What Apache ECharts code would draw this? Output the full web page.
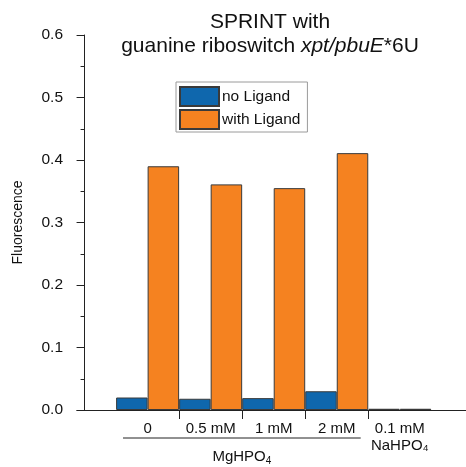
<!DOCTYPE html>
<html>
<head>
<meta charset="utf-8">
<script src="https://cdn.jsdelivr.net/npm/echarts@6/dist/echarts.min.js"></script>
<style>
html, body { margin: 0; padding: 0; background: #fff; }
#chart { width: 466px; height: 467px; }
</style>
</head>
<body>
<div id="chart"></div>
<script>
// Conditions (buffer additive) and measured fluorescence
const categories = ['0', '0.5 mM', '1 mM', '2 mM', '0.1 mM'];
const noLigand = [0.020, 0.018, 0.019, 0.030, 0.002];
const withLigand = [0.390, 0.361, 0.355, 0.411, 0.002];
const yTicks = [0, 0.1, 0.2, 0.3, 0.4, 0.5, 0.6];

const FONT = '"Liberation Sans", Arial, sans-serif';
const BLUE = '#0f67ad';
const ORANGE = '#f58220';
const EDGE = '#3a3a3a';

// each condition sits at integer position 1..n on the x scale
const positions = categories.map((c, i) => i + 1);
const boundaries = positions.slice(1).map(p => p - 0.5);

const chart = echarts.init(document.getElementById('chart'), null, { renderer: 'canvas' });

const option = {
  animation: false,
  backgroundColor: '#fff',
  title: {
    text: 'SPRINT with\n{n|guanine riboswitch }{i|xpt/pbuE}{n|*6U}',
    left: 265, top: 5, textAlign: 'center',
    textStyle: {
      fontFamily: FONT, fontSize: 21, fontWeight: 'normal', color: '#111', lineHeight: 24,
      rich: {
        n: { fontFamily: FONT, fontSize: 21, color: '#111', lineHeight: 24 },
        i: { fontFamily: FONT, fontSize: 21, fontStyle: 'italic', color: '#111', lineHeight: 24 }
      }
    }
  },
  legend: {
    left: 176, top: 82,
    orient: 'vertical',
    icon: 'rect',
    itemWidth: 39, itemHeight: 19, itemGap: 2,
    padding: [4, 7, 2, 3],
    borderColor: '#9a9a9a', borderWidth: 1,
    textStyle: { fontFamily: FONT, fontSize: 15.5, color: '#111', padding: [0, 0, 0, -2] },
    data: ['no Ligand', 'with Ligand']
  },
  grid: { left: 77, right: 0, top: 35, bottom: 57, containLabel: false },
  xAxis: {
    type: 'value',
    min: -0.12, max: 6.05,
    splitLine: { show: false },
    axisLine: { show: true, onZero: false, lineStyle: { color: '#222', width: 1 } },
    axisTick: { show: true, customValues: boundaries, inside: false, length: 9, lineStyle: { color: '#222' } },
    axisLabel: {
      show: true, customValues: positions, margin: 11,
      formatter: v => categories[Math.round(v) - 1] || '',
      fontFamily: FONT, fontSize: 15, color: '#111'
    }
  },
  yAxis: {
    type: 'value',
    min: 0, max: 0.6, interval: 0.1,
    name: 'Fluorescence', nameLocation: 'middle', nameGap: 52,
    nameTextStyle: { fontFamily: FONT, fontSize: 14, color: '#111' },
    splitLine: { show: false },
    axisLine: { show: true, lineStyle: { color: '#222', width: 1 } },
    axisTick: { show: true, length: 8, lineStyle: { color: '#222' } },
    minorTick: { show: true, splitNumber: 2, length: 4, lineStyle: { color: '#222' } },
    axisLabel: {
      fontFamily: FONT, fontSize: 15.5, color: '#111', margin: 14,
      formatter: v => v.toFixed(1)
    }
  },
  series: [
    {
      name: 'no Ligand', type: 'bar',
      barWidth: 31.5, barGap: '-100%',
      itemStyle: { color: BLUE, borderColor: EDGE, borderWidth: 1 },
      data: positions.map((p, i) => [p - 0.25, noLigand[i]])
    },
    {
      name: 'with Ligand', type: 'bar',
      barWidth: 31.5, barGap: '-100%',
      itemStyle: { color: ORANGE, borderColor: EDGE, borderWidth: 1 },
      data: positions.map((p, i) => [p + 0.25, withLigand[i]])
    }
  ]
};
chart.setOption(option);

// group annotation: bracket line under the MgHPO4 conditions and salt names
const px = (x, y) => chart.convertToPixel({ gridIndex: 0 }, [x, y]);
const left = px(positions[0] - 0.39, 0);
const right = px(positions[3] + 0.38, 0);
const naPos = px(positions[4], 0);
const baseY = left[1];
chart.setOption({
  graphic: [
    {
      type: 'line', silent: true,
      shape: { x1: left[0], y1: baseY + 28, x2: right[0], y2: baseY + 28 },
      style: { stroke: '#222', lineWidth: 1 }
    },
    {
      type: 'text', silent: true,
      x: (left[0] + right[0]) / 2, y: baseY + 37,
      style: {
        text: 'MgHPO{s|4}', align: 'center', verticalAlign: 'top',
        font: '15px ' + FONT, fill: '#111',
        rich: { s: { font: '10px ' + FONT, fill: '#111', padding: [9, 0, 0, 0] } }
      }
    },
    {
      type: 'text', silent: true,
      x: naPos[0], y: baseY + 28,
      style: {
        text: 'NaHPO₄', align: 'center', verticalAlign: 'top',
        font: '15px ' + FONT, fill: '#111'
      }
    }
  ]
});
</script>
</body>
</html>
